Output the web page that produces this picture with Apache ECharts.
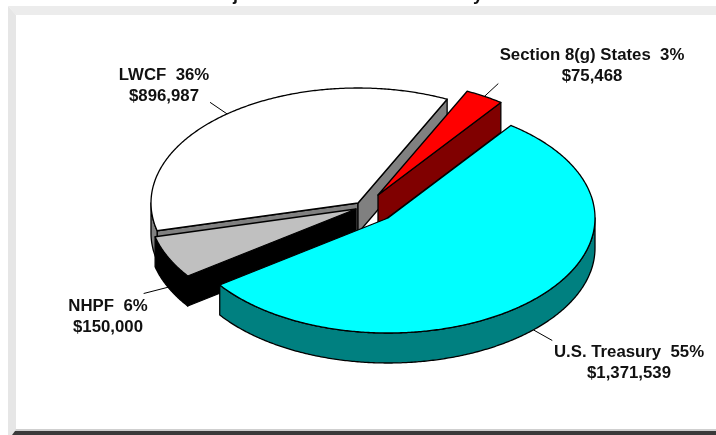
<!DOCTYPE html>
<html>
<head>
<meta charset="utf-8">
<style>html,body{margin:0;padding:0;background:#fff}#c{width:716px;height:435px}</style>
<script src="https://cdn.jsdelivr.net/npm/echarts@6/dist/echarts.min.js"></script>
</head>
<body>
<div id="c"></div>
<script>
// ---- data (clockwise from the start angle) ----
const categories = ['U.S. Treasury', 'NHPF', 'LWCF', 'Section 8(g) States'];
const amounts = [1371539, 150000, 896987, 75468];

// ---- appearance and layout ----
const topColors = ['#00FFFF', '#C0C0C0', '#FFFFFF', '#FF0000'];
const wallColors = ['#008080', '#000000', '#808080', '#800000'];
const explodeDx = [18, -14, -12, 8];
const explodeDy = [9, 0, -6, -14];
const labelX = [629, 108, 164, 592];
const labelY = [363, 317, 86, 66];
const drawOrder = [2, 3, 1, 0];
const startAngle = 53.6, cx = 370, cy = 209, rx = 207, ry = 115, depth = 30;
const FONT = 'bold 16.8px "Liberation Sans", Arial, sans-serif';
const rad = Math.PI / 180;

const total = amounts.reduce((a, b) => a + b, 0);
let acc = startAngle;
const spans = amounts.map(v => { const s = acc; acc -= v / total * 360; return [s, acc]; });

function pt(vx, vy, deg, k, dz) {
  return [vx + rx * k * Math.cos(deg * rad), vy - ry * k * Math.sin(deg * rad) + (dz || 0)];
}
function arc(vx, vy, a0, a1, dz) {
  const n = Math.max(2, Math.ceil(Math.abs(a0 - a1) * 2)), out = [];
  for (let i = 0; i <= n; i++) out.push(pt(vx, vy, a0 + (a1 - a0) * i / n, 1, dz));
  return out;
}
const lineStyle = { stroke: '#000', lineWidth: 1.3, lineJoin: 'round' };

function renderItem(params, api) {
  const i = api.value(0);
  const [s, e] = spans[i];
  const vx = cx + explodeDx[i], vy = cy + explodeDy[i];
  const wall = Object.assign({ fill: wallColors[i] }, lineStyle);
  const children = [];
  const quad = (deg) => {
    const p = pt(vx, vy, deg, 1);
    children.push({ type: 'polygon', shape: { points: [[vx, vy], p, [p[0], p[1] + depth], [vx, vy + depth]] }, style: wall });
  };
  if (Math.cos(s * rad) < 0) quad(s);
  if (Math.cos(e * rad) > 0) quad(e);
  const hi = Math.min(s, 0), lo = Math.max(e, -180);
  if (hi > lo) {
    children.push({ type: 'polygon', shape: { points: arc(vx, vy, hi, lo, 0).concat(arc(vx, vy, lo, hi, depth)) }, style: wall });
  }
  children.push({ type: 'polygon', shape: { points: [[vx, vy]].concat(arc(vx, vy, s, e, 0)) },
    style: Object.assign({ fill: topColors[i] }, lineStyle) });

  // leader line and label
  const mid = (s + e) / 2;
  const dz = Math.sin(mid * rad) < 0 ? depth : 0;
  children.push({ type: 'line', shape: (() => {
      const a = pt(vx, vy, mid, 1, dz), b = pt(vx, vy, mid, 1.13, dz);
      return { x1: a[0], y1: a[1], x2: b[0], y2: b[1] };
    })(), style: { stroke: '#000', lineWidth: 1 } });
  children.push({ type: 'text', style: {
      x: labelX[i], y: labelY[i], align: 'center', verticalAlign: 'middle', lineHeight: 20.5,
      font: FONT, fill: '#111',
      text: categories[i] + '  ' + Math.round(amounts[i] / total * 100) + '%\n$' + amounts[i].toLocaleString('en-US')
    } });
  return { type: 'group', children };
}

const frame = [
  { type: 'polygon', shape: { points: [[8, 6], [716, 6], [716, 15], [16, 15]] }, style: { fill: '#ececec' } },
  { type: 'polygon', shape: { points: [[8, 6], [16, 15], [16, 430], [12, 435], [8, 435]] }, style: { fill: '#e6e6e6' } },
  { type: 'polygon', shape: { points: [[16, 429], [716, 429], [716, 431], [15, 431]] }, style: { fill: '#cfcfcf' } },
  { type: 'polygon', shape: { points: [[15, 431], [716, 431], [716, 435], [12, 435]] }, style: { fill: '#3a3a3a' } },
  { type: 'text', style: { x: 233, y: -14, text: 'j', font: 'bold 18px "Liberation Sans", Arial, sans-serif', fill: '#111' } },
  { type: 'text', style: { x: 473, y: -14, text: 'y', font: 'bold 18px "Liberation Sans", Arial, sans-serif', fill: '#111' } }
];

const chart = echarts.init(document.getElementById('c'), null, { renderer: 'canvas' });
chart.setOption({
  animation: false,
  backgroundColor: '#fff',
  graphic: { elements: frame },
  series: [{
    type: 'custom',
    coordinateSystem: 'none',
    clip: false,
    silent: true,
    renderItem,
    data: drawOrder.map(i => [i, amounts[i]])
  }]
});
</script>
</body>
</html>
